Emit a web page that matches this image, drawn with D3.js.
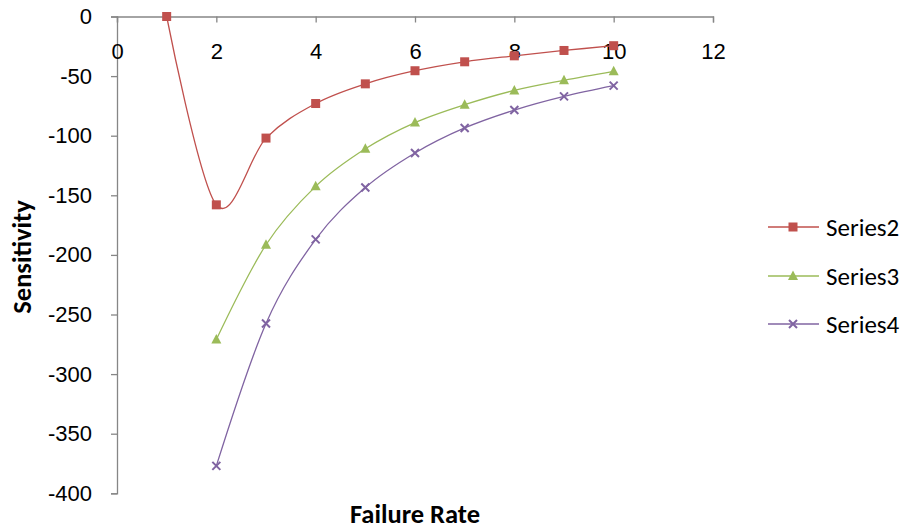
<!DOCTYPE html>
<html>
<head>
<meta charset="utf-8">
<script src="https://cdn.jsdelivr.net/npm/d3@7"></script>
<style>
  html, body { margin: 0; padding: 0; background: #fff; }
  svg { display: block; font-family: Carlito, Calibri, Lato, "Open Sans", sans-serif; }
</style>
</head>
<body>
<svg id="chart" width="906" height="529"></svg>
<script>
// Failure rate values on the x axis
const failureRates2 = [1, 2, 3, 4, 5, 6, 7, 8, 9, 10];
const failureRates34 = [2, 3, 4, 5, 6, 7, 8, 9, 10];

// Sensitivity series
const series2 = [0, -158, -102, -73, -56.5, -45.5, -38, -33, -28.5, -24.5];
const series3 = [-271, -191.5, -142.5, -111, -89, -74, -62, -53.5, -46];
const series4 = [-377, -257.5, -187, -143.5, -114.5, -93.5, -78.5, -67, -58];

const seriesNames = ["Series2", "Series3", "Series4"];
const seriesColors = ["#C0504D", "#9BBB59", "#8064A2"];
const seriesMarkers = ["square", "triangle", "cross"];

const xTicks = [0, 2, 4, 6, 8, 10, 12];
const yTicks = [0, -50, -100, -150, -200, -250, -300, -350, -400];

const svg = d3.select("#chart");

const x = d3.scaleLinear().domain([0, 12]).range([117, 713]);
const y = d3.scaleLinear().domain([-400, 0]).range([493.3, 16.5]);

const axisColor = "#868686";
const fmt = d => String(d); // plain hyphen-minus

// y axis on the left, running down from 0 to -400
const yAxis = svg.append("g")
  .attr("transform", `translate(${x(0)},0)`)
  .call(d3.axisLeft(y).tickValues(yTicks).tickSize(6).tickPadding(19).tickFormat(fmt));

// x axis sits at sensitivity 0, labels below the line
const xAxis = svg.append("g")
  .attr("transform", `translate(0,${y(0)})`)
  .call(d3.axisBottom(x).tickValues(xTicks).tickSize(6).tickPadding(21).tickFormat(fmt));

[xAxis, yAxis].forEach(g => {
  g.select(".domain").attr("stroke", axisColor).attr("stroke-width", 1.3);
  g.selectAll(".tick line").attr("stroke", axisColor).attr("stroke-width", 1.3);
  g.selectAll(".tick text").attr("fill", "#000").style("font-size", "22px");
});

const data = [
  failureRates2.map((r, i) => ({ r, v: series2[i] })),
  failureRates34.map((r, i) => ({ r, v: series3[i] })),
  failureRates34.map((r, i) => ({ r, v: series4[i] }))
];

const line = d3.line()
  .x(d => x(d.r))
  .y(d => y(d.v))
  .curve(d3.curveCardinal.tension(0));

function drawMarker(g, type, color) {
  if (type === "square") {
    g.append("rect").attr("x", -4.5).attr("y", -4.5).attr("width", 9).attr("height", 9)
      .attr("fill", color);
  } else if (type === "triangle") {
    g.append("path").attr("d", "M0,-5.5L5,4L-5,4Z").attr("fill", color);
  } else {
    g.append("path").attr("d", "M-4,-4L4,4M-4,4L4,-4")
      .attr("stroke", color).attr("stroke-width", 2).attr("fill", "none");
  }
}

data.forEach((pts, si) => {
  const color = seriesColors[si];
  svg.append("path")
    .datum(pts)
    .attr("d", line)
    .attr("fill", "none")
    .attr("stroke", color)
    .attr("stroke-width", 1.3);
  svg.append("g").selectAll("g")
    .data(pts)
    .join("g")
    .attr("transform", d => `translate(${x(d.r)},${y(d.v)})`)
    .each(function () { drawMarker(d3.select(this), seriesMarkers[si], color); });
});

// Legend
const legendRows = [227, 276, 324];
seriesNames.forEach((name, i) => {
  const g = svg.append("g").attr("transform", `translate(0,${legendRows[i]})`);
  g.append("line").attr("x1", 768).attr("x2", 819).attr("y1", 0).attr("y2", 0)
    .attr("stroke", seriesColors[i]).attr("stroke-width", 1.3);
  drawMarker(g.append("g").attr("transform", "translate(793,0)"), seriesMarkers[i], seriesColors[i]);
  g.append("text").attr("x", 826).attr("y", 0).attr("dy", "0.36em")
    .style("font-size", "25px").text(name);
});

// Axis titles
svg.append("text")
  .attr("x", 415).attr("y", 523)
  .attr("text-anchor", "middle")
  .style("font-size", "26.5px").style("font-weight", "bold")
  .text("Failure Rate");

svg.append("text")
  .attr("transform", "translate(31,257) rotate(-90)")
  .attr("text-anchor", "middle")
  .style("font-size", "26.5px").style("font-weight", "bold")
  .text("Sensitivity");
</script>
</body>
</html>
